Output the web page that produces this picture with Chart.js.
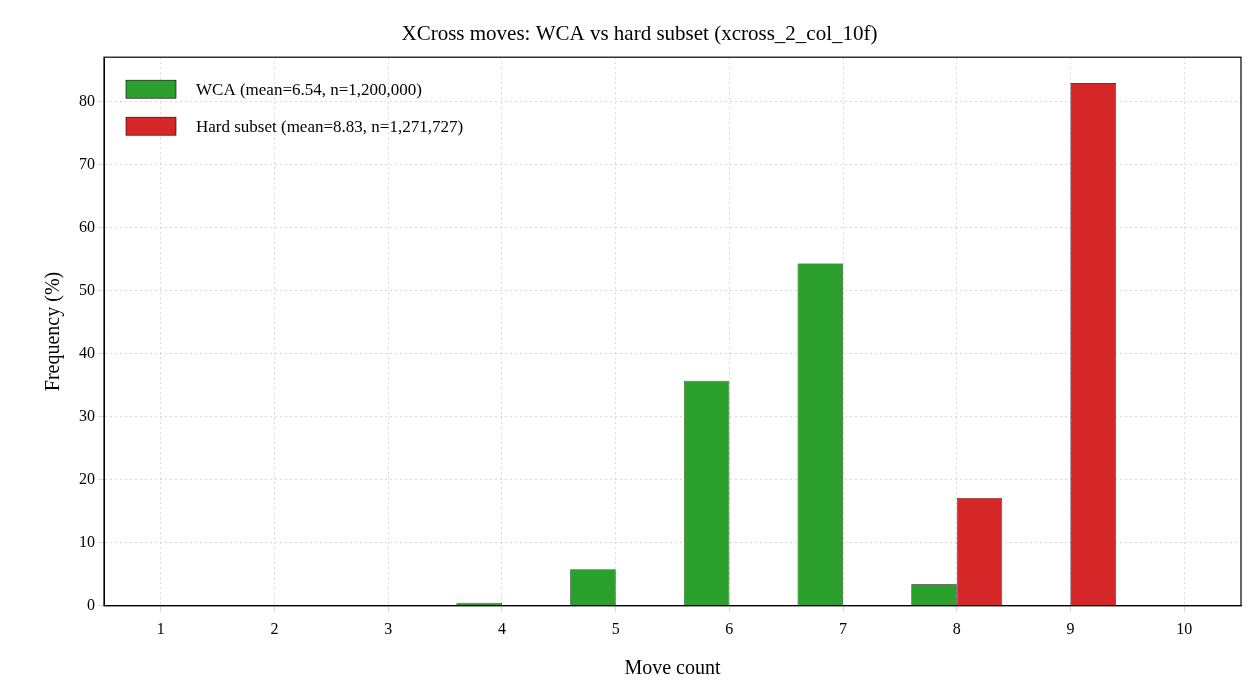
<!DOCTYPE html>
<html>
<head>
<meta charset="utf-8">
<script src="https://cdn.jsdelivr.net/npm/chart.js@4"></script>
<style>
  html, body { margin: 0; padding: 0; background: #fff; }
  #wrap { width: 1260px; height: 699px; }
</style>
</head>
<body>
<div id="wrap"><canvas id="moveChart"></canvas></div>
<script>
const moveCounts = ['1', '2', '3', '4', '5', '6', '7', '8', '9', '10'];
const wcaFreq = [0, 0, 0.02, 0.5, 5.8, 35.7, 54.3, 3.4, 0, 0];
const hardFreq = [0, 0, 0, 0, 0, 0, 0, 17.1, 82.9, 0];
const seriesLabels = ['WCA (mean=6.54, n=1,200,000)', 'Hard subset (mean=8.83, n=1,271,727)'];
const yTicks = [0, 10, 20, 30, 40, 50, 60, 70, 80];

const fontFamily = '"Liberation Serif", "Times New Roman", serif';

// legend drawn inside the plot + black frame
const insideLegend = {
    id: 'insideLegend',
    afterDraw(chart) {
        const c = chart.ctx;
        const a = chart.chartArea;
        c.save();
        c.strokeStyle = '#000';
        c.lineWidth = 1.2;
        c.strokeRect(a.left, a.top, a.right - a.left, a.bottom - a.top);
        c.font = '17px ' + fontFamily;
        c.textBaseline = 'middle';
        chart.data.datasets.forEach(function(ds, i) {
            const y = a.top + 32 + i * 37;
            c.fillStyle = ds.backgroundColor;
            c.fillRect(a.left + 22, y - 9, 50, 18);
            c.lineWidth = 0.6;
            c.strokeRect(a.left + 22, y - 9, 50, 18);
            c.fillStyle = '#000';
            c.fillText(ds.label, a.left + 92, y + 1);
        });
        c.restore();
    }
};

const ctx = document.getElementById('moveChart').getContext('2d');
new Chart(ctx, {
    type: 'bar',
    data: {
        labels: moveCounts,
        datasets: [
            { label: seriesLabels[0], data: wcaFreq, backgroundColor: '#2ca02c', borderColor: '#000', borderWidth: 0.6 },
            { label: seriesLabels[1], data: hardFreq, backgroundColor: '#d62728', borderColor: '#000', borderWidth: 0.6 }
        ]
    },
    options: {
        responsive: true,
        maintainAspectRatio: false,
        animation: false,
        layout: { padding: { left: 38, right: 19, top: 4, bottom: 14 } },
        categoryPercentage: 0.8,
        barPercentage: 1.0,
        plugins: {
            legend: { display: false },
            tooltip: { enabled: false },
            title: {
                display: true,
                text: 'XCross moves: WCA vs hard subset (xcross_2_col_10f)',
                color: '#000',
                font: { family: fontFamily, size: 21, weight: 'normal' },
                padding: { top: 18, bottom: 10 }
            }
        },
        scales: {
            x: {
                grid: { offset: false, color: 'rgba(0,0,0,0.15)', drawTicks: true, tickLength: 6 },
                border: { color: '#000', dash: [2, 3] },
                ticks: { color: '#000', font: { family: fontFamily, size: 16 }, padding: 8 },
                title: { display: true, text: 'Move count', color: '#000', font: { family: fontFamily, size: 20 }, padding: { top: 10 } }
            },
            y: {
                min: 0,
                max: 87,
                afterBuildTicks(axis) { axis.ticks = yTicks.map(v => ({ value: v })); },
                grid: { color: 'rgba(0,0,0,0.15)', tickLength: 6 },
                border: { color: '#000', dash: [2, 3] },
                ticks: { color: '#000', font: { family: fontFamily, size: 16 } },
                title: { display: true, text: 'Frequency (%)', color: '#000', font: { family: fontFamily, size: 20 }, padding: { bottom: 10 } }
            }
        }
    },
    plugins: [insideLegend]
});
</script>
</body>
</html>
